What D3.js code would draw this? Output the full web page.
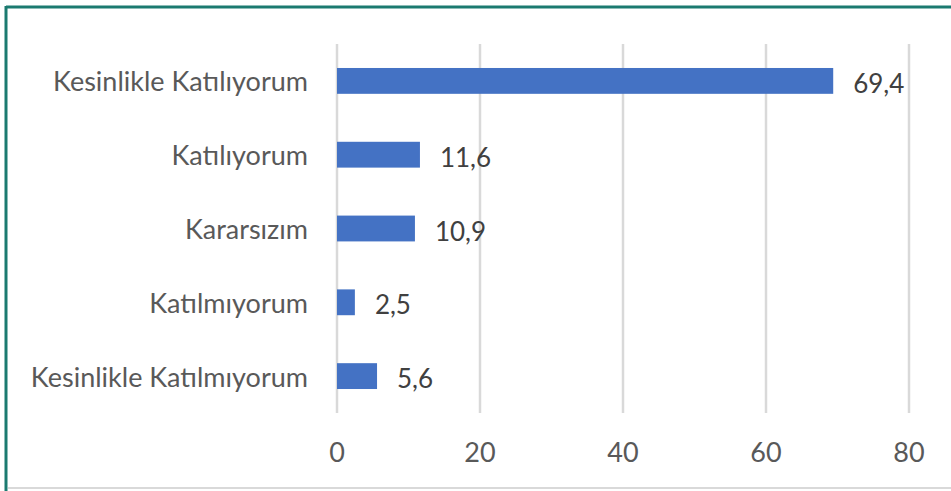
<!DOCTYPE html>
<meta charset="utf-8">
<script src="https://d3js.org/d3.v7.min.js"></script>
<style>
body { margin: 0; background: #fff; }
text { font-family: Lato, "Open Sans", sans-serif; }
</style>
<body>
<script>

// data
var categories = ["Kesinlikle Katılıyorum", "Katılıyorum", "Kararsızım", "Katılmıyorum", "Kesinlikle Katılmıyorum"];
var values = [69.4, 11.6, 10.9, 2.5, 5.6];
var valueLabels = ["69,4", "11,6", "10,9", "2,5", "5,6"];
var ticks = [0, 20, 40, 60, 80];

var W = 951, H = 491;
var margin = {top: 44, right: 41, bottom: 78, left: 337};

var svg = d3.select("body").append("svg")
    .attr("width", W)
    .attr("height", H);

// frame
svg.append("line").attr("x1", 6).attr("x2", W).attr("y1", 7).attr("y2", 7)
    .style("stroke", "#1b7a70").style("stroke-width", 3);
svg.append("line").attr("x1", 6).attr("x2", 6).attr("y1", 6).attr("y2", H)
    .style("stroke", "#1b7a70").style("stroke-width", 3);
svg.append("line").attr("x1", 8).attr("x2", W).attr("y1", 488).attr("y2", 488)
    .style("stroke", "#d9d9d9").style("stroke-width", 2);

var x = d3.scaleLinear()
    .domain([0, 80])
    .range([margin.left, 909]);

var y = d3.scaleBand()
    .domain(categories)
    .range([margin.top, 413])
    .paddingInner(0.65)
    .paddingOuter(0.325);

// gridlines
svg.append("g")
    .selectAll("line")
    .data(ticks)
    .enter()
    .append("line")
    .attr("x1", function(d) { return x(d); })
    .attr("x2", function(d) { return x(d); })
    .attr("y1", margin.top)
    .attr("y2", 413)
    .style("stroke", "#d9d9d9")
    .style("stroke-width", 2.5);

// bars
svg.append("g")
    .selectAll("rect")
    .data(values)
    .enter()
    .append("rect")
    .attr("x", x(0))
    .attr("y", function(d, i) { return y(categories[i]); })
    .attr("width", function(d) { return x(d) - x(0); })
    .attr("height", y.bandwidth())
    .style("fill", "#4472c4");

// value labels
svg.append("g")
    .selectAll("text")
    .data(values)
    .enter()
    .append("text")
    .attr("x", function(d) { return x(d) + 20; })
    .attr("y", function(d, i) { return y(categories[i]) + y.bandwidth() / 2 + 3; })
    .attr("dy", "0.35em")
    .style("font-size", "26px")
    .style("fill", "#404040")
    .text(function(d, i) { return valueLabels[i]; });

// category labels
svg.append("g")
    .selectAll("text")
    .data(categories)
    .enter()
    .append("text")
    .attr("x", 308)
    .attr("y", function(d) { return y(d) + y.bandwidth() / 2 + 1; })
    .attr("dy", "0.35em")
    .attr("text-anchor", "end")
    .style("font-size", "27px")
    .style("fill", "#595959")
    .text(function(d) { return d; });

// x tick labels
svg.append("g")
    .selectAll("text")
    .data(ticks)
    .enter()
    .append("text")
    .attr("x", function(d) { return x(d); })
    .attr("y", 453)
    .attr("dy", "0.35em")
    .attr("text-anchor", "middle")
    .style("font-size", "27px")
    .style("fill", "#595959")
    .text(function(d) { return d; });

</script>
</body>
